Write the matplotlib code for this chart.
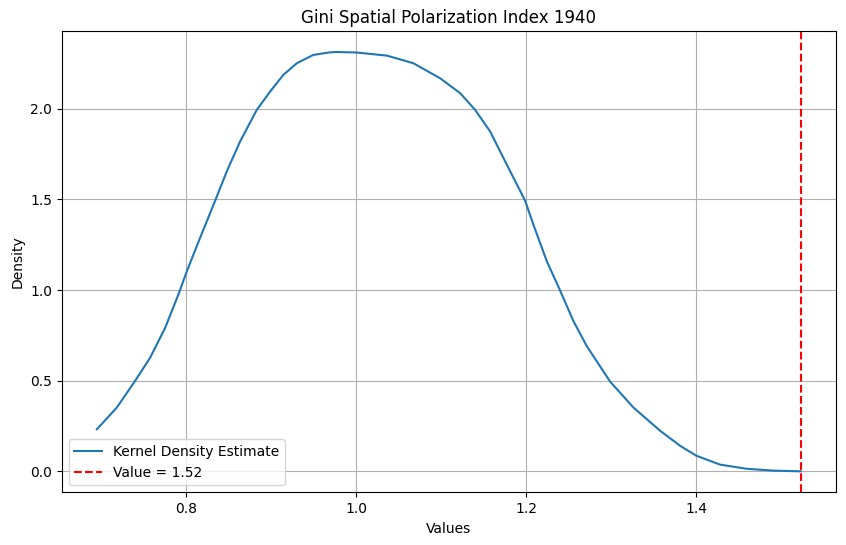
import matplotlib
matplotlib.use("Agg")
from matplotlib import pyplot as plt

# density curve
xs = [0.6946, 0.7181, 0.7396, 0.7573, 0.775, 0.7906, 0.8005, 0.816, 0.8338, 0.8475,
      0.8632, 0.8828, 0.8985, 0.9141, 0.9299, 0.9494, 0.9691, 0.977, 1.0, 1.0358,
      1.067, 1.0985, 1.122, 1.1396, 1.1573, 1.177, 1.1985, 1.2082, 1.224, 1.2396,
      1.2553, 1.271, 1.2985, 1.3259, 1.3573, 1.3808, 1.4, 1.4279, 1.4593, 1.4906,
      1.5228]
density = [0.232, 0.352, 0.499, 0.627, 0.792, 0.976, 1.104, 1.287, 1.493, 1.655,
           1.820, 1.994, 2.095, 2.187, 2.251, 2.297, 2.311, 2.313, 2.310, 2.293,
           2.251, 2.168, 2.086, 1.994, 1.875, 1.691, 1.493, 1.361, 1.159, 0.998,
           0.829, 0.691, 0.495, 0.352, 0.224, 0.141, 0.086, 0.037, 0.014, 0.004,
           0.0]
observed = 1.5228
year = 1940

fig = plt.figure(figsize=(8.46, 5.45), dpi=100)
ax = fig.add_axes([0.0729, 0.0967, 0.9152, 0.8464])

ax.plot(xs, density, label='Kernel Density Estimate')
ax.axvline(observed, color='red', linestyle='--', label=f'Value = {observed:.2f}')

ax.set_title(f'Gini Spatial Polarization Index {year}')
ax.set_xlabel('Values')
ax.set_ylabel('Density')
ax.set_xticks([0.8, 1.0, 1.2, 1.4])
ax.set_yticks([0.0, 0.5, 1.0, 1.5, 2.0])
ax.legend(loc='lower left')
ax.grid(True)

fig.savefig('out.png', dpi=100)
